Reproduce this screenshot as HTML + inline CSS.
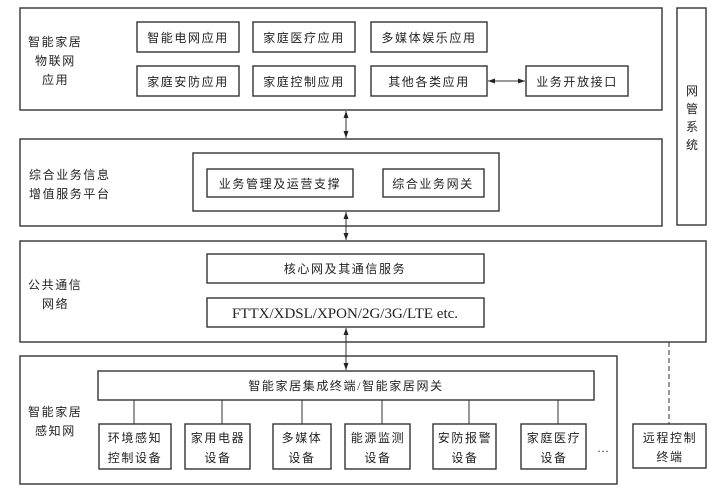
<!DOCTYPE html>
<html><head><meta charset="utf-8"><style>
html,body{margin:0;padding:0;background:#fff;}
svg{display:block;}
text{font-family:"Liberation Serif","Noto Sans CJK SC",serif;font-size:12px;fill:#222;letter-spacing:1.6px;}
.c{text-anchor:middle;}
</style></head><body>
<svg width="722" height="493" viewBox="0 0 722 493" xmlns="http://www.w3.org/2000/svg">
<defs>
<marker id="a" markerWidth="8" markerHeight="8" refX="7" refY="4" orient="auto" markerUnits="userSpaceOnUse"><path d="M0,1.5 L7,4 L0,6.5 z" fill="#222"/></marker>
<marker id="b" markerWidth="8" markerHeight="8" refX="1" refY="4" orient="auto" markerUnits="userSpaceOnUse"><path d="M8,1.5 L1,4 L8,6.5 z" fill="#222"/></marker>
</defs>
<g fill="none" stroke="#333" stroke-width="1.4">
<rect x="20" y="8" width="642" height="102"/>
<rect x="677" y="8" width="29" height="217"/>
<rect x="137" y="22" width="102" height="30"/>
<rect x="253" y="22" width="102" height="30"/>
<rect x="371" y="22" width="116" height="30"/>
<rect x="137" y="66" width="102" height="30"/>
<rect x="253" y="66" width="102" height="30"/>
<rect x="371" y="66" width="116" height="30"/>
<rect x="526" y="66" width="102" height="30"/>
<rect x="20" y="139" width="642" height="87"/>
<rect x="193" y="153" width="306" height="58"/>
<rect x="207" y="169" width="146" height="28"/>
<rect x="383" y="169" width="101" height="28"/>
<rect x="20" y="241" width="686" height="101"/>
<rect x="207" y="254" width="277" height="29"/>
<rect x="207" y="298" width="277" height="29"/>
<rect x="20" y="356" width="597" height="128"/>
<rect x="98" y="371" width="496" height="29"/>
<rect x="99" y="424" width="72" height="45"/>
<rect x="185" y="424" width="65" height="45"/>
<rect x="273" y="424" width="58" height="45"/>
<rect x="345" y="424" width="65" height="45"/>
<rect x="433" y="424" width="63" height="45"/>
<rect x="521" y="424" width="65" height="45"/>
<rect x="633" y="424" width="73" height="44"/>
</g>
<g stroke="#333" stroke-width="1">
<line x1="134" y1="400" x2="134" y2="424"/>
<line x1="222" y1="400" x2="222" y2="424"/>
<line x1="302" y1="400" x2="302" y2="424"/>
<line x1="382" y1="400" x2="382" y2="424"/>
<line x1="469" y1="400" x2="469" y2="424"/>
<line x1="558" y1="400" x2="558" y2="424"/>
<line x1="669" y1="342" x2="669" y2="424" stroke-dasharray="5,3"/>
<line x1="346" y1="111" x2="346" y2="138" marker-start="url(#b)" marker-end="url(#a)"/>
<line x1="346" y1="212" x2="346" y2="240" marker-start="url(#b)" marker-end="url(#a)"/>
<line x1="346" y1="328" x2="346" y2="370" marker-start="url(#b)" marker-end="url(#a)"/>
<line x1="488" y1="81" x2="525" y2="81" marker-start="url(#b)" marker-end="url(#a)"/>
</g>
<text x="28" y="46">智能家居</text>
<text x="35" y="65">物联网</text>
<text x="42" y="84">应用</text>
<text class="c" x="188" y="42">智能电网应用</text>
<text class="c" x="304" y="42">家庭医疗应用</text>
<text class="c" x="429" y="42">多媒体娱乐应用</text>
<text class="c" x="188" y="86">家庭安防应用</text>
<text class="c" x="304" y="86">家庭控制应用</text>
<text class="c" x="429" y="86">其他各类应用</text>
<text class="c" x="577" y="86">业务开放接口</text>
<text x="686" y="95">网</text>
<text x="686" y="113">管</text>
<text x="686" y="131">系</text>
<text x="686" y="149">统</text>
<text x="29" y="179">综合业务信息</text>
<text x="29" y="198">增值服务平台</text>
<text class="c" x="280" y="188">业务管理及运营支撑</text>
<text class="c" x="433" y="188">综合业务网关</text>
<text x="28" y="289">公共通信</text>
<text x="42" y="308">网络</text>
<text class="c" x="345" y="273">核心网及其通信服务</text>
<text class="c" x="345" y="318" style="font-size:15px;letter-spacing:0">FTTX/XDSL/XPON/2G/3G/LTE etc.</text>
<text x="28" y="416">智能家居</text>
<text x="35" y="435">感知网</text>
<text class="c" x="346" y="390">智能家居集成终端/智能家居网关</text>
<text class="c" x="135" y="442">环境感知</text>
<text class="c" x="135" y="462">控制设备</text>
<text class="c" x="218" y="442">家用电器</text>
<text class="c" x="218" y="462">设备</text>
<text class="c" x="302" y="442">多媒体</text>
<text class="c" x="302" y="462">设备</text>
<text class="c" x="378" y="442">能源监测</text>
<text class="c" x="378" y="462">设备</text>
<text class="c" x="465" y="442">安防报警</text>
<text class="c" x="465" y="462">设备</text>
<text class="c" x="554" y="442">家庭医疗</text>
<text class="c" x="554" y="462">设备</text>
<text x="597" y="452" style="letter-spacing:0">…</text>
<text class="c" x="670" y="442">远程控制</text>
<text class="c" x="670" y="461">终端</text>
</svg>
</body></html>
